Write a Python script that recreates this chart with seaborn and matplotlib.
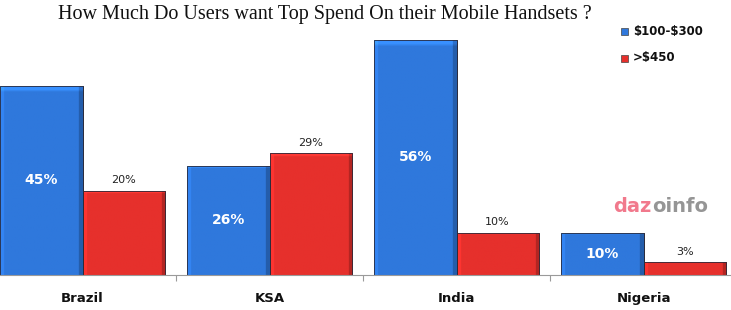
import matplotlib
matplotlib.use("Agg")
import matplotlib.pyplot as plt
import seaborn as sns
import pandas as pd
import numpy as np
from matplotlib.colors import to_rgb
from matplotlib.patches import Rectangle

countries = ["Brazil", "KSA", "India", "Nigeria"]
low_range = [45, 26, 56, 10]    # $100-$300
high_range = [20, 29, 10, 3]    # >$450
series_names = ["$100-$300", ">$450"]
title = "How Much Do Users want Top Spend On their Mobile Handsets ?"

df = pd.DataFrame({
    "Country": countries * 2,
    "Share": low_range + high_range,
    "Range": [series_names[0]] * 4 + [series_names[1]] * 4,
})

sns.set_theme(style="white")
plt.rcParams["font.family"] = ["DejaVu Sans"]

fig = plt.figure(figsize=(7.31, 3.10), dpi=100)
ax = fig.add_axes([-11 / 731, 35 / 310, 748 / 731, 252 / 310])

blue, red = "#2f78dc", "#e6302c"
palette = {series_names[0]: blue, series_names[1]: red}
sns.barplot(data=df, x="Country", y="Share", hue="Range", palette=palette,
            width=0.88, gap=0, saturation=1, ax=ax, legend=False,
            edgecolor="#2a2a3a", linewidth=0.6)

ax.set_xlim(-0.5, 3.5)
ax.set_ylim(0, 60)


def shade(base):
    c = np.array(to_rgb(base))
    n = 80
    t = np.linspace(0, 1, n)
    h = np.ones(n)
    h[t < 0.04] = 1.1
    h[t > 0.96] = 0.78
    v = np.ones(n)
    v[:2] = 1.2
    img = np.clip(c[None, None, :] * h[None, :, None] * v[:, None, None], 0, 1)
    return img


for cont, col in zip(ax.containers, [blue, red]):
    img = shade(col)
    for p in cont.patches:
        x0, y0 = p.get_x(), p.get_y()
        w, hgt = p.get_width(), p.get_height()
        im = ax.imshow(img, extent=[x0, x0 + w, y0, y0 + hgt], aspect="auto",
                       origin="upper", zorder=p.get_zorder() + 0.1,
                       interpolation="bilinear")
        im.set_clip_path(p)
        edge = Rectangle((x0, y0), w, hgt, fill=False, edgecolor="#2a2a3a",
                         linewidth=0.6, zorder=p.get_zorder() + 0.2)
        ax.add_patch(edge)
ax.set_xlim(-0.5, 3.5)
ax.set_ylim(0, 60)

ax.set_xlabel("")
ax.set_ylabel("")
ax.set_yticks([])
for s in ["top", "right", "left"]:
    ax.spines[s].set_visible(False)
ax.spines["bottom"].set_color("#9a9a9a")
ax.spines["bottom"].set_linewidth(0.8)
ax.tick_params(axis="x", which="major", length=0, pad=12)
ax.set_xticks([0.5, 1.5, 2.5], minor=True)
ax.tick_params(axis="x", which="minor", length=4, color="#9a9a9a", width=0.8, bottom=True)
for lab in ax.get_xticklabels():
    lab.set_fontweight("bold")
    lab.set_fontsize(9.5)
    lab.set_color("#111111")

c_low, c_high = ax.containers[0], ax.containers[1]
for t in ax.bar_label(c_low, labels=[f"{v}%" for v in low_range], label_type="center",
                      color="white", fontweight="bold", fontsize=10):
    t.set_zorder(10)
for t in ax.bar_label(c_high, labels=[f"{v}%" for v in high_range], label_type="edge",
                      padding=4, color="#222222", fontsize=8):
    t.set_zorder(10)

fig.text(325 / 731, 1 - 15 / 310, title, ha="center", va="center",
         family="Liberation Serif", fontsize=14.5, color="#111111")

# legend
for i, (name, col) in enumerate(zip(series_names, [blue, red])):
    y = 1 - (31 + 27 * i) / 310
    fig.patches.append(Rectangle((621 / 731, y - 3.5 / 310), 7 / 731, 7 / 310,
                                 transform=fig.transFigure, facecolor=col,
                                 edgecolor="#444444", linewidth=0.5))
    fig.text(633 / 731, y, name.replace("$", r"\$"), ha="left", va="center",
             fontsize=8.5, fontweight="bold", color="#111111")

# watermark
fig.canvas.draw()
r = fig.canvas.get_renderer()
t1 = fig.text(613 / 731, 1 - 206 / 310, "daz", ha="left", va="center", fontsize=14,
              fontweight="bold", color="#f06a80", alpha=0.9)
bb = t1.get_window_extent(renderer=r)
t2 = fig.text(bb.x1 / 731 + 1 / 731, 1 - 206 / 310, "oinfo", ha="left", va="center",
              fontsize=14, fontweight="bold", color="#8a8a8a", alpha=0.9)

fig.savefig("out.png", dpi=100)
